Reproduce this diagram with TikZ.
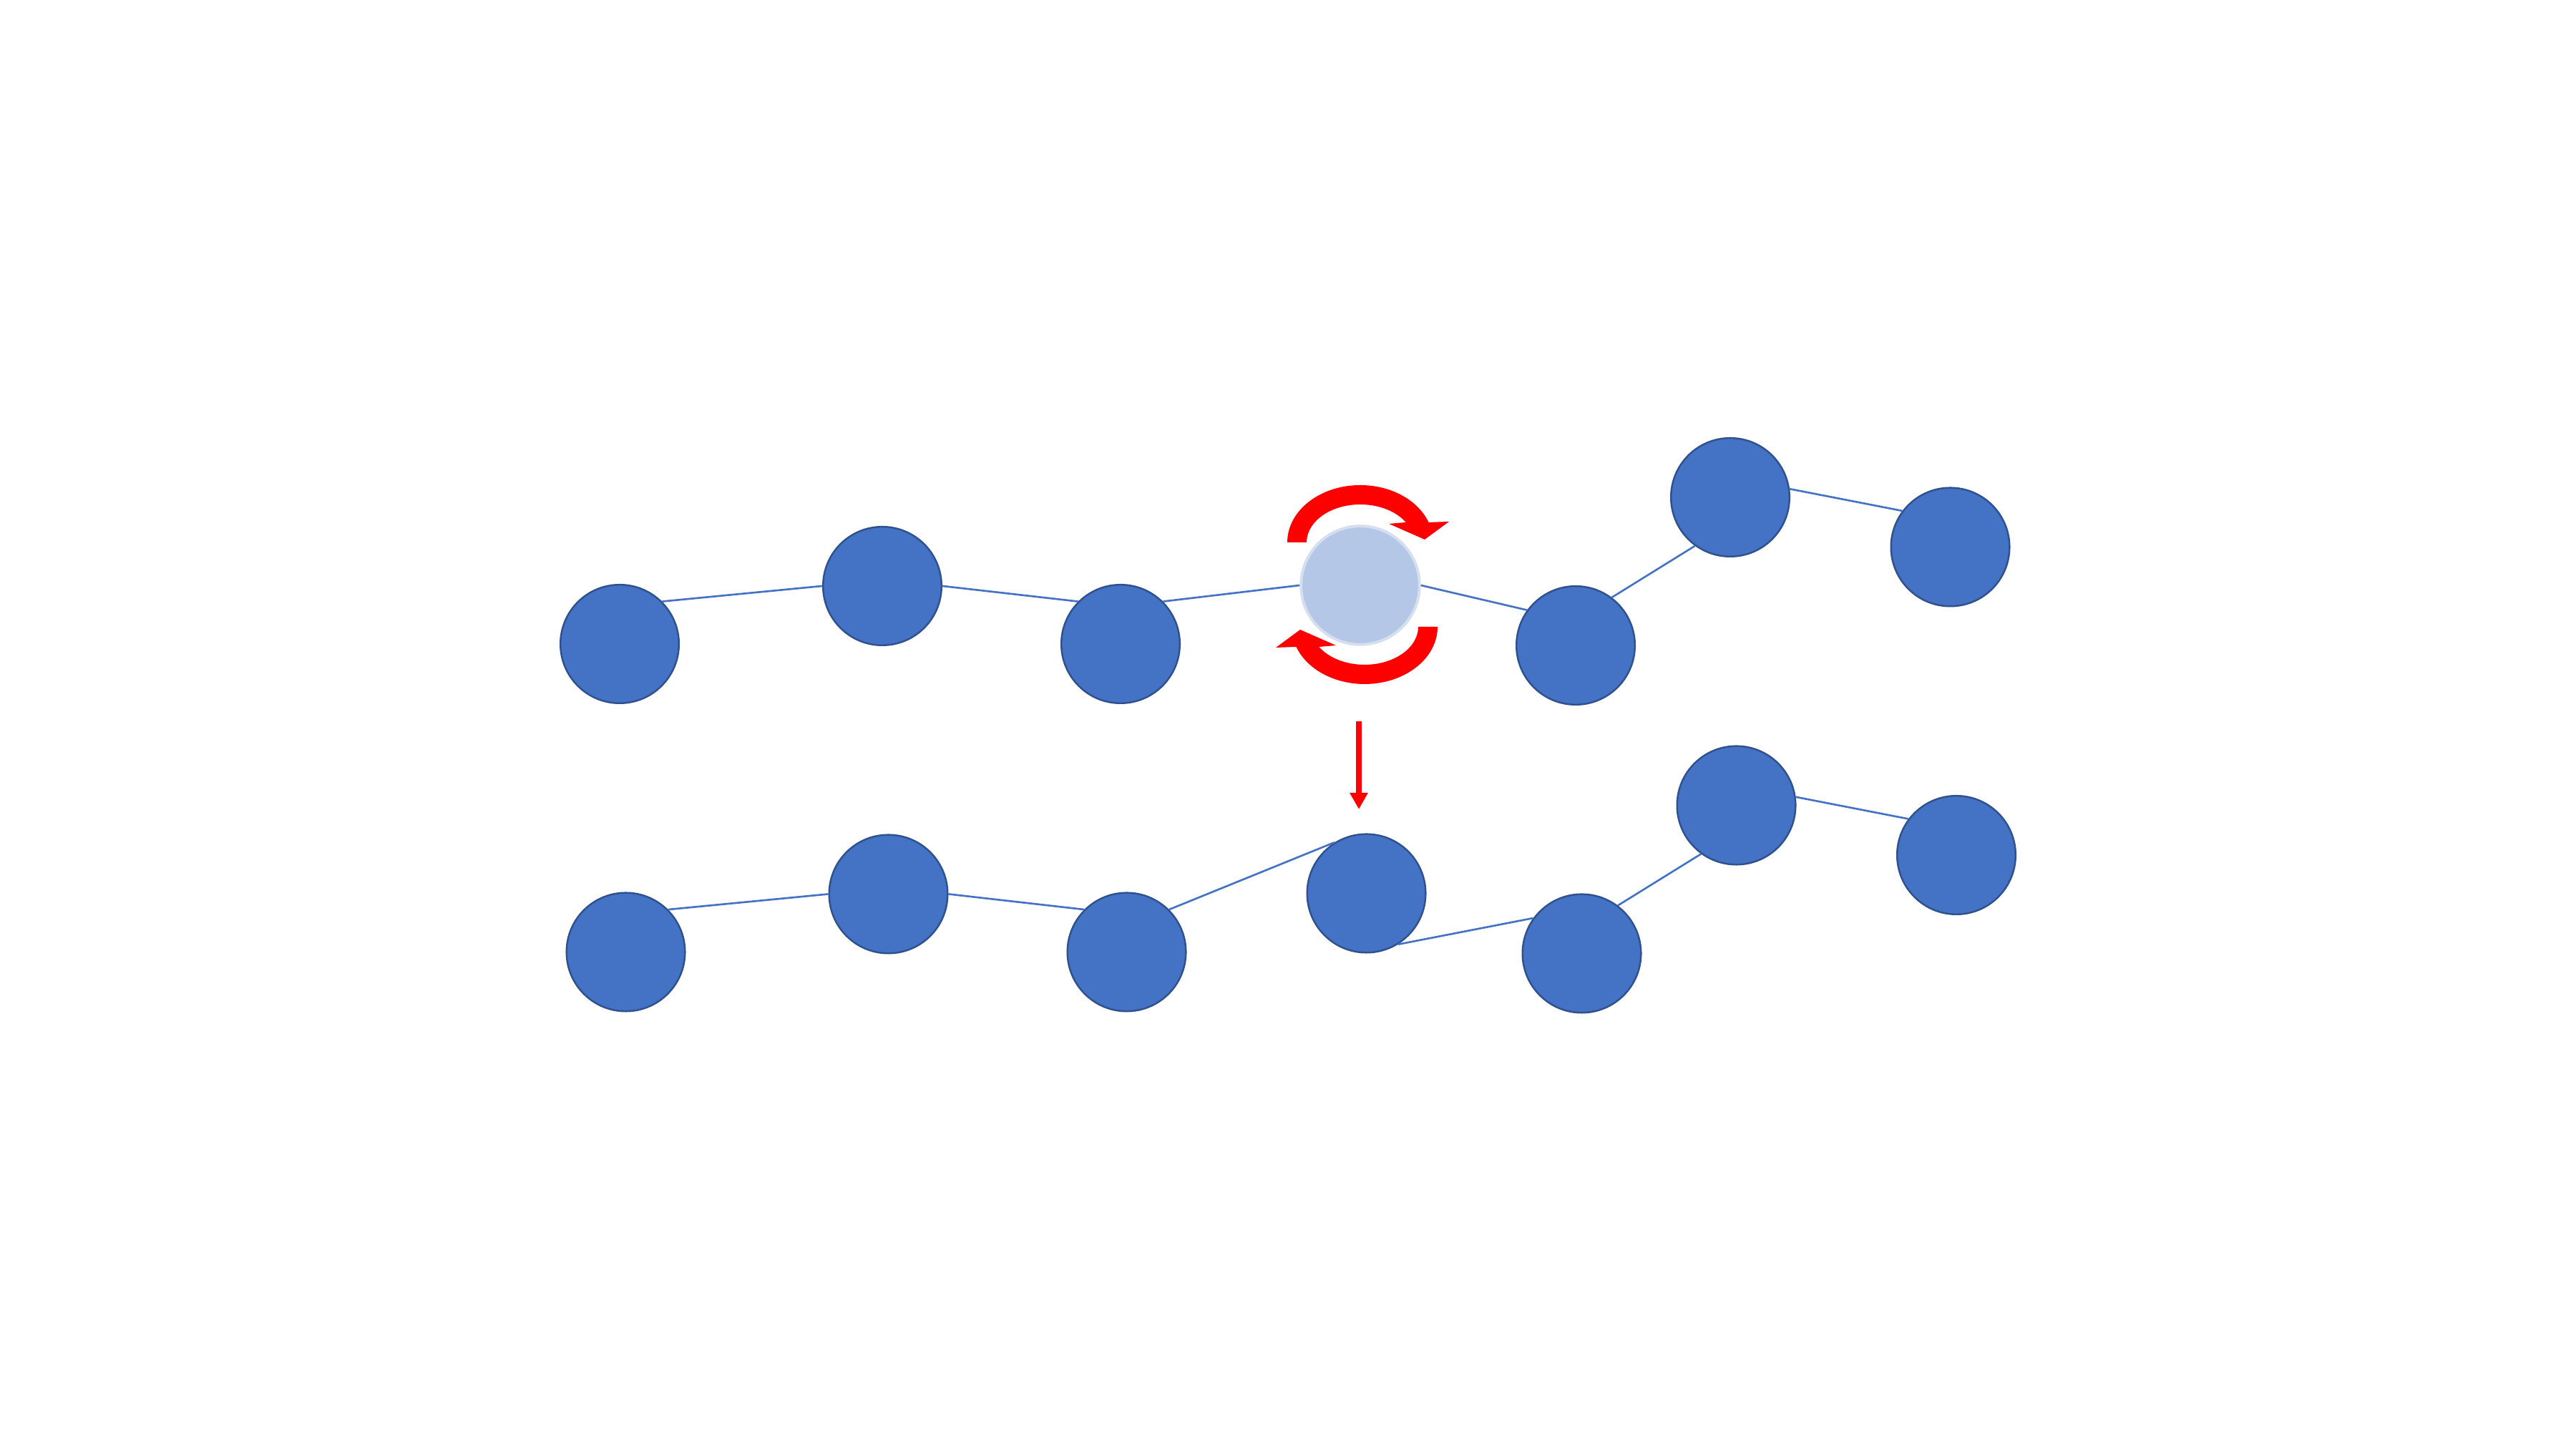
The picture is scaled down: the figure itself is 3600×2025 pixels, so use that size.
\documentclass[tikz,border=0pt]{standalone}
\usetikzlibrary{arrows.meta}
\definecolor{pblue}{HTML}{4472C4}
\definecolor{pborder}{HTML}{2F528F}
\definecolor{plight}{HTML}{B4C7E7}
\definecolor{plightb}{HTML}{D6DFEF}
\definecolor{pred}{HTML}{FF0000}
\begin{document}
\begin{tikzpicture}[x=0.01cm,y=0.01cm,
  atom/.style={circle, draw=pborder, fill=pblue, line width=0.7pt, minimum size=1.655cm, inner sep=0pt},
  ghost/.style={circle, draw=plightb, fill=plight, line width=1.1pt, minimum size=1.655cm, inner sep=0pt},
  bond/.style={draw=pblue, line width=0.75pt},
  turnarrow/.style={fill=pred, draw=none},
  movearrow/.style={draw=pred, line width=0.08cm, -{Triangle[length=0.23cm,width=0.24cm]}}]
\useasboundingbox (0,0) rectangle (3600,2025);
\fill[white] (0,0) rectangle (3600,2025);

% top chain
\node[atom]  (A1) at (866,1125) {};
\node[atom]  (A2) at (1233,1206) {};
\node[atom]  (A3) at (1566,1125) {};
\node[ghost] (A4) at (1901,1207) {};
\node[atom]  (A5) at (2202,1123) {};
\node[atom]  (A6) at (2418,1330) {};
\node[atom]  (A7) at (2725.5,1260.5) {};

\draw[bond] (A1.45) -- (A2.180);
\draw[bond] (A2.0) -- (A3.135);
\draw[bond] (A3.45) -- (A4.180);
\draw[bond] (A4.0) -- (A5.144);
\draw[bond] (A5.53) -- (A6.234);
\draw[bond] (A6.8) -- (A7.143);

% bottom chain
\node[atom] (B1) at (874.5,694.5) {};
\node[atom] (B2) at (1241.5,775.5) {};
\node[atom] (B3) at (1574.5,694.5) {};
\node[atom] (B4) at (1909.5,776.5) {};
\node[atom] (B5) at (2210.5,692.5) {};
\node[atom] (B6) at (2426.5,899.5) {};
\node[atom] (B7) at (2734,830) {};

\draw[bond] (B1.45) -- (B2.180);
\draw[bond] (B2.0) -- (B3.135);
\draw[bond] (B3.45) -- (B4.122);
\draw[bond] (B4.-58) -- (B5.144);
\draw[bond] (B5.53) -- (B6.234);
\draw[bond] (B6.8) -- (B7.143);

% rotation arrows
\fill[turnarrow] (1799,1267) arc[start angle=180, end angle=20.5, x radius=102, y radius=80]
  -- (2025,1296) -- (1991,1271) -- (1941,1293) -- (1964.7,1295)
  arc[start angle=31.9, end angle=180, x radius=75, y radius=53] -- cycle;
\begin{scope}[rotate around={180:(1904,1208)}]
\fill[turnarrow] (1799,1267) arc[start angle=180, end angle=20.5, x radius=102, y radius=80]
  -- (2025,1296) -- (1991,1271) -- (1941,1293) -- (1964.7,1295)
  arc[start angle=31.9, end angle=180, x radius=75, y radius=53] -- cycle;
\end{scope}

% downward arrow
\coordinate (mvS) at (1899,1017);
\coordinate (mvE) at (1899,894);
\draw[movearrow] (mvS) -- (mvE);
\end{tikzpicture}
\end{document}
